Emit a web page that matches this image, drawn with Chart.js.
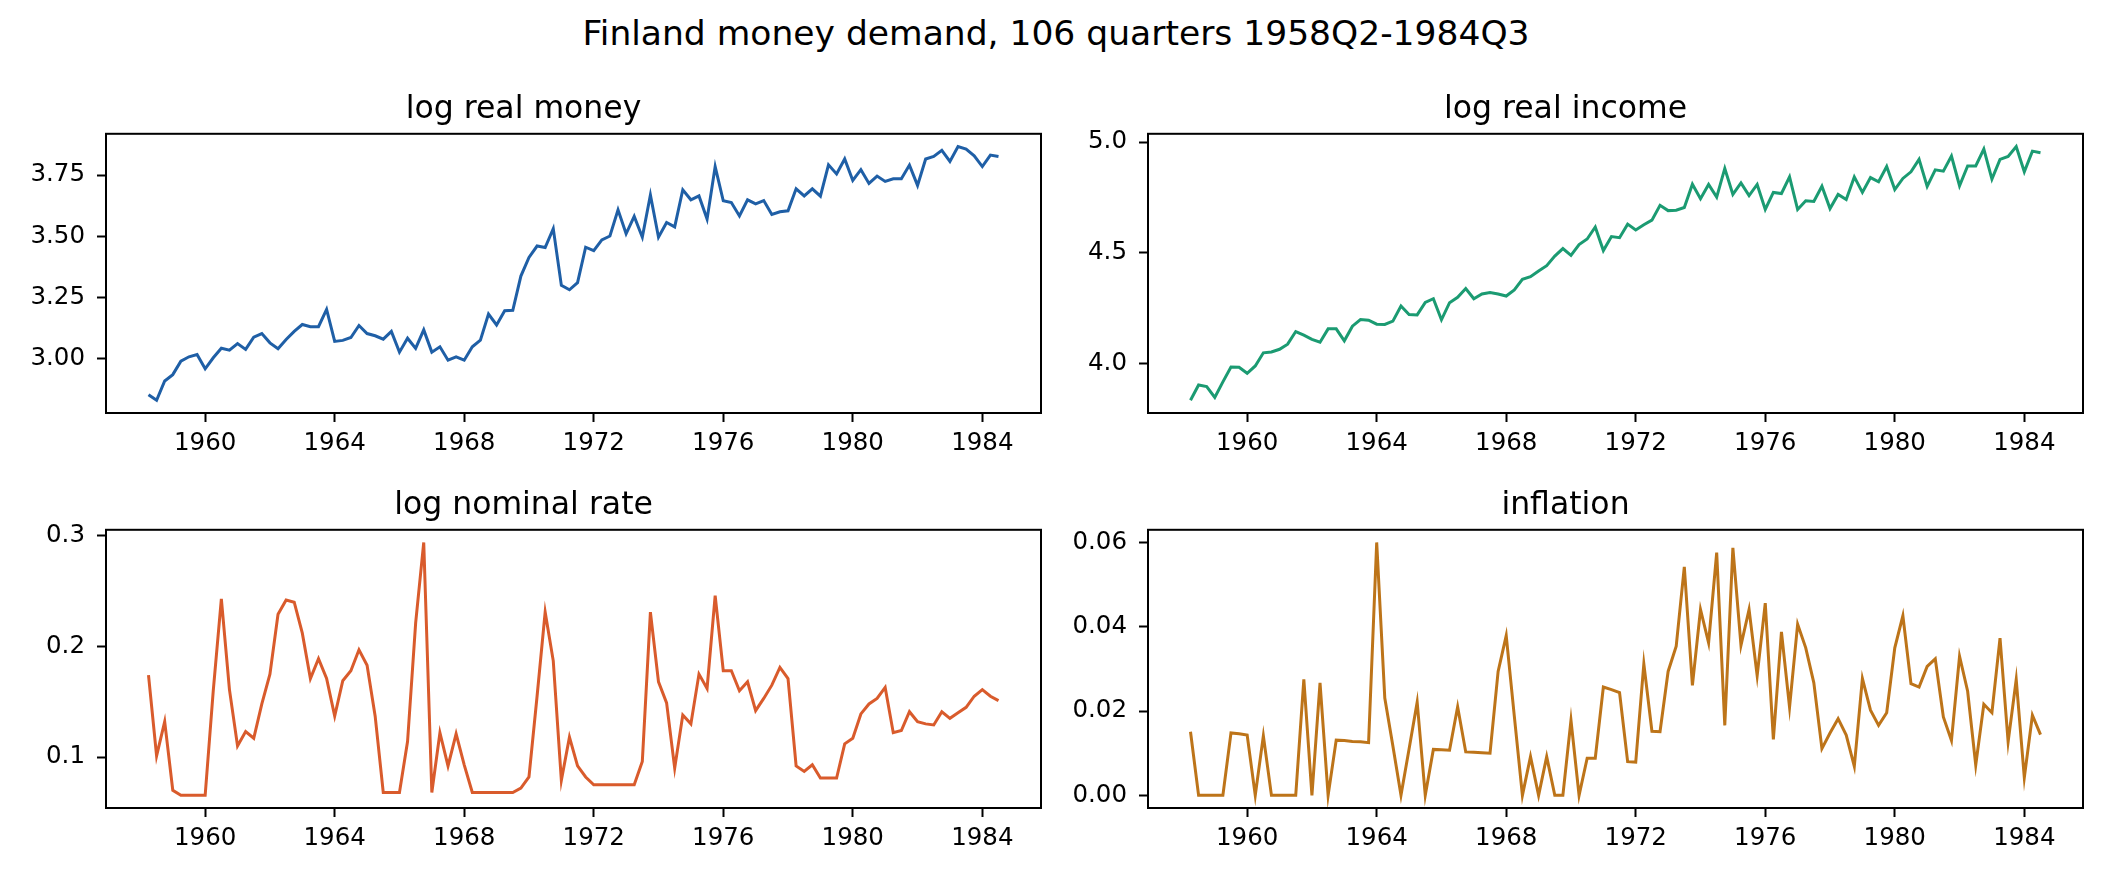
<!DOCTYPE html>
<html>
<head>
<meta charset="utf-8">
<title>Finland money demand</title>
<script src="https://cdn.jsdelivr.net/npm/chart.js@4.4.1/dist/chart.umd.min.js"></script>
<style>
  html, body { margin: 0; padding: 0; background: #fff; }
  body { width: 2112px; height: 883px; position: relative; overflow: hidden; font-family: "DejaVu Sans", sans-serif; }
  #suptitle { position: absolute; left: 0; width: 2112px; top: 16px; text-align: center; font-size: 34.5px; line-height: 34.5px; color: #000; }
  .panel { position: absolute; }
</style>
</head>
<body>
<div id="suptitle">Finland money demand, 106 quarters 1958Q2-1984Q3</div>
<div class="panel" id="p1"><canvas id="c1"></canvas></div>
<div class="panel" id="p2"><canvas id="c2"></canvas></div>
<div class="panel" id="p3"><canvas id="c3"></canvas></div>
<div class="panel" id="p4"><canvas id="c4"></canvas></div>
<script>
// quarterly data, 1958Q2 .. 1984Q3
const startYear = 1958;
const startQuarter = 2;

const logRealMoney = [
  2.852, 2.829, 2.908, 2.934, 2.989, 3.007, 3.016, 2.958, 3.003, 3.042,
  3.034, 3.061, 3.037, 3.087, 3.102, 3.064, 3.040, 3.078, 3.111, 3.139,
  3.130, 3.130, 3.201, 3.070, 3.074, 3.086, 3.135, 3.102, 3.093, 3.079,
  3.111, 3.026, 3.083, 3.041, 3.117, 3.026, 3.048, 2.993, 3.007, 2.993,
  3.048, 3.075, 3.182, 3.137, 3.195, 3.197, 3.337, 3.413, 3.460, 3.454,
  3.531, 3.299, 3.281, 3.310, 3.455, 3.441, 3.485, 3.501, 3.608, 3.510,
  3.581, 3.496, 3.669, 3.496, 3.556, 3.538, 3.690, 3.649, 3.665, 3.570,
  3.785, 3.645, 3.638, 3.583, 3.649, 3.632, 3.646, 3.589, 3.600, 3.604,
  3.694, 3.665, 3.694, 3.664, 3.792, 3.755, 3.816, 3.728, 3.772, 3.716,
  3.746, 3.724, 3.735, 3.735, 3.791, 3.708, 3.816, 3.826, 3.851, 3.806,
  3.867, 3.856, 3.829, 3.785, 3.832, 3.826
];

const logRealIncome = [
  3.836, 3.905, 3.898, 3.849, 3.919, 3.986, 3.985, 3.958, 3.991, 4.050,
  4.054, 4.066, 4.089, 4.146, 4.130, 4.111, 4.098, 4.158, 4.158, 4.104,
  4.170, 4.200, 4.197, 4.179, 4.178, 4.193, 4.261, 4.223, 4.221, 4.277,
  4.294, 4.199, 4.276, 4.300, 4.340, 4.294, 4.315, 4.322, 4.315, 4.306,
  4.334, 4.381, 4.393, 4.419, 4.443, 4.486, 4.520, 4.489, 4.538, 4.563,
  4.617, 4.511, 4.574, 4.569, 4.630, 4.604, 4.627, 4.648, 4.715, 4.691,
  4.693, 4.705, 4.810, 4.745, 4.809, 4.752, 4.881, 4.764, 4.816, 4.759,
  4.809, 4.696, 4.773, 4.768, 4.843, 4.696, 4.735, 4.732, 4.801, 4.700,
  4.764, 4.741, 4.843, 4.773, 4.840, 4.821, 4.890, 4.786, 4.836, 4.866,
  4.922, 4.800, 4.875, 4.869, 4.937, 4.803, 4.892, 4.892, 4.968, 4.833,
  4.922, 4.935, 4.980, 4.866, 4.959, 4.952
];

const logNominalRate = [
  0.174, 0.101, 0.132, 0.070, 0.0654, 0.0654, 0.0654, 0.0654, 0.160, 0.243,
  0.161, 0.110, 0.123, 0.117, 0.148, 0.175, 0.229, 0.242, 0.240, 0.212,
  0.171, 0.189, 0.171, 0.137, 0.169, 0.178, 0.197, 0.183, 0.137, 0.068,
  0.068, 0.068, 0.114, 0.221, 0.294, 0.068, 0.122, 0.092, 0.121, 0.093,
  0.068, 0.068, 0.068, 0.068, 0.068, 0.068, 0.072, 0.082, 0.155, 0.231,
  0.187, 0.079, 0.118, 0.092, 0.082, 0.075, 0.075, 0.075, 0.075, 0.075,
  0.075, 0.096, 0.231, 0.168, 0.149, 0.090, 0.138, 0.130, 0.175, 0.162,
  0.246, 0.178, 0.178, 0.160, 0.168, 0.142, 0.153, 0.165, 0.181, 0.171,
  0.092, 0.087, 0.093, 0.081, 0.081, 0.081, 0.112, 0.117, 0.139, 0.148,
  0.153, 0.163, 0.122, 0.124, 0.141, 0.132, 0.130, 0.129, 0.141, 0.135,
  0.140, 0.145, 0.155, 0.161, 0.155, 0.151
];

const inflation = [
  0.0151, 0, 0, 0, 0, 0.0148, 0.0146, 0.0143, 0, 0.0141,
  0, 0, 0, 0, 0.0275, 0, 0.0267, 0, 0.0131, 0.0130,
  0.0128, 0.0127, 0.0125, 0.0600, 0.0231, 0.0117, 0, 0.0110, 0.0221, 0,
  0.0109, 0.0108, 0.0107, 0.0210, 0.0103, 0.0102, 0.0101, 0.0100, 0.0294, 0.0379,
  0.0188, 0, 0.0092, 0, 0.0092, 0, 0, 0.0178, 0, 0.0088,
  0.0088, 0.0257, 0.0251, 0.0244, 0.0080, 0.0079, 0.0312, 0.0152, 0.0151, 0.0294,
  0.0354, 0.0542, 0.0261, 0.0441, 0.0362, 0.0576, 0.0166, 0.0587, 0.0356, 0.0441,
  0.0284, 0.0456, 0.0133, 0.0388, 0.0209, 0.0406, 0.0350, 0.0267, 0.0111, 0.0148,
  0.0182, 0.0143, 0.0069, 0.0277, 0.0202, 0.0166, 0.0196, 0.0350, 0.0426, 0.0265,
  0.0257, 0.0306, 0.0324, 0.0186, 0.0130, 0.0330, 0.0247, 0.0072, 0.0216, 0.0196,
  0.0373, 0.0127, 0.0275, 0.0042, 0.0190, 0.0144
];

const yearTicks = ["1960", "1964", "1968", "1972", "1976", "1980", "1984"];
const moneyTicks = ["3.00", "3.25", "3.50", "3.75"];
const incomeTicks = ["4.0", "4.5", "5.0"];
const rateTicks = ["0.1", "0.2", "0.3"];
const inflationTicks = ["0.00", "0.02", "0.04", "0.06"];

// quarter start as decimal year (1958Q2 -> 1958.25)
const quarterTimes = logRealMoney.map((_, i) => startYear + (startQuarter - 1) / 4 + i / 4);

Chart.defaults.font.family = "'DejaVu Sans', sans-serif";
Chart.defaults.color = "#000";

// draw the full axes box like matplotlib spines
const framePlugin = {
  id: "frame",
  afterDraw(chart) {
    const { ctx, chartArea: a } = chart;
    ctx.save();
    ctx.strokeStyle = "#000";
    ctx.lineWidth = 2;
    ctx.strokeRect(a.left, a.top, a.right - a.left, a.bottom - a.top);
    ctx.restore();
  }
};

function padRange(values) {
  const lo = Math.min(...values), hi = Math.max(...values);
  const m = (hi - lo) * 0.05;
  return [lo - m, hi + m];
}

const Y_AXIS_W = 100, X_AXIS_H = 50, RIGHT_PAD = 10, TITLE_BLOCK = 43;

function makePanel(id, canvasId, values, color, title, yTickLabels, box) {
  const el = document.getElementById(id);
  el.style.left = (box.left - Y_AXIS_W) + "px";
  el.style.top = (box.top - TITLE_BLOCK) + "px";
  el.style.width = (box.right - box.left + Y_AXIS_W + RIGHT_PAD) + "px";
  el.style.height = (box.bottom - box.top + TITLE_BLOCK + X_AXIS_H) + "px";

  const [xMin, xMax] = padRange(quarterTimes);
  const [yMin, yMax] = padRange(values);
  const yTickValues = yTickLabels.map(Number);
  const decimals = yTickLabels[0].split(".")[1].length;

  new Chart(document.getElementById(canvasId), {
    type: "line",
    data: {
      datasets: [{
        data: values.map((v, i) => ({ x: quarterTimes[i], y: v })),
        borderColor: color,
        borderWidth: 3,
        pointRadius: 0,
        tension: 0,
        fill: false
      }]
    },
    options: {
      responsive: true,
      maintainAspectRatio: false,
      animation: false,
      layout: { padding: { left: 0, right: RIGHT_PAD, top: 0, bottom: 0 } },
      plugins: {
        legend: { display: false },
        tooltip: { enabled: false },
        title: {
          display: true,
          text: title,
          font: { size: 31.5, weight: "normal" },
          color: "#000",
          padding: { top: 0, bottom: TITLE_BLOCK - 38 }
        }
      },
      scales: {
        x: {
          type: "linear",
          min: xMin,
          max: xMax,
          afterBuildTicks: s => { s.ticks = yearTicks.map(t => ({ value: Number(t) })); },
          afterFit: s => { s.height = X_AXIS_H; },
          ticks: {
            autoSkip: false,
            maxRotation: 0,
            padding: 7,
            font: { size: 24.5 },
            color: "#000",
            callback: v => String(v)
          },
          grid: { drawOnChartArea: false, drawTicks: true, tickLength: 9, tickColor: "#000", tickWidth: 2 },
          border: { display: false }
        },
        y: {
          min: yMin,
          max: yMax,
          afterBuildTicks: s => { s.ticks = yTickValues.map(v => ({ value: v })); },
          afterFit: s => { s.width = Y_AXIS_W; },
          ticks: {
            autoSkip: false,
            padding: 12,
            font: { size: 24.5 },
            color: "#000",
            callback: v => Number(v).toFixed(decimals)
          },
          grid: { drawOnChartArea: false, drawTicks: true, tickLength: 9, tickColor: "#000", tickWidth: 2 },
          border: { display: false }
        }
      }
    },
    plugins: [framePlugin]
  });
}

makePanel("p1", "c1", logRealMoney, "#1f5fa6", "log real money", moneyTicks,
  { left: 106, right: 1041, top: 134, bottom: 413 });
makePanel("p2", "c2", logRealIncome, "#1b9b72", "log real income", incomeTicks,
  { left: 1148, right: 2083, top: 134, bottom: 413 });
makePanel("p3", "c3", logNominalRate, "#d95b2c", "log nominal rate", rateTicks,
  { left: 106, right: 1041, top: 530, bottom: 808 });
makePanel("p4", "c4", inflation, "#bd7419", "inflation", inflationTicks,
  { left: 1148, right: 2083, top: 530, bottom: 808 });
</script>
</body>
</html>
